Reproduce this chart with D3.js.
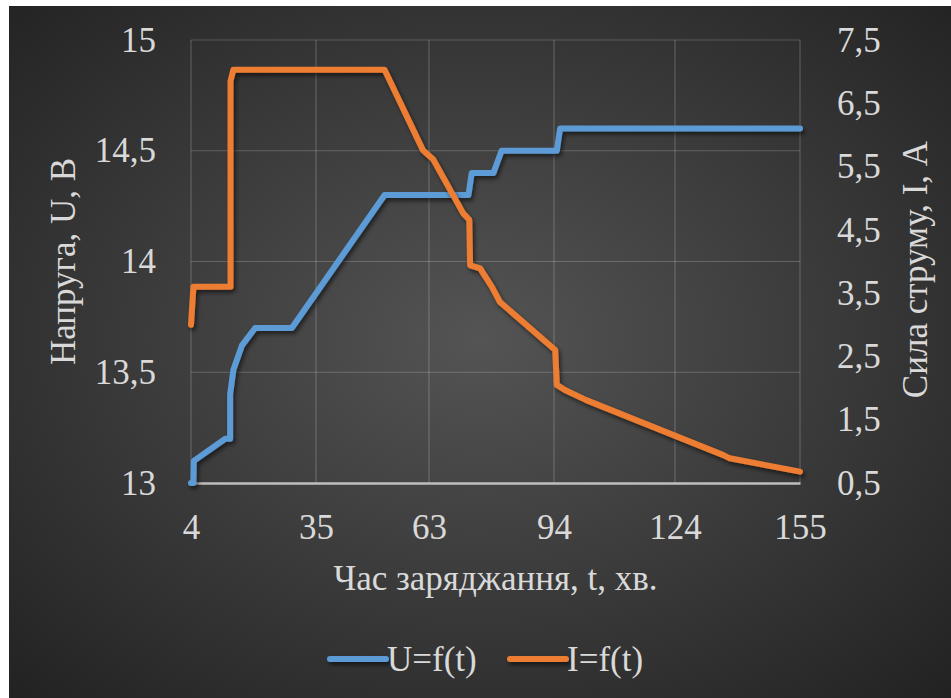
<!DOCTYPE html>
<html>
<head>
<meta charset="utf-8">
<script src="https://cdn.jsdelivr.net/npm/d3@7"></script>
<style>
  #chart text, #chart .tick text { font-family: "Times New Roman", "Liberation Serif", "Tinos", serif !important; }
</style>
</head>
<body style="margin:0">
<svg id="chart" width="951" height="698" style="display:block" font-family="Times New Roman"></svg>
<script>
// ---- data ----
const xTicks = [4, 35, 63, 94, 124, 155];
const uTicks = [13, 13.5, 14, 14.5, 15];
const iTicks = [0.5, 1.5, 2.5, 3.5, 4.5, 5.5, 6.5, 7.5];

const uTime = [4, 4.6, 4.7, 12.5, 13.7, 13.7, 14.5, 16.6, 19.9, 29, 52, 72.8, 73.6, 79, 81, 94.7, 95.5, 155];
const uValues = [13.0, 13.0, 13.1, 13.2, 13.2, 13.4, 13.51, 13.62, 13.7, 13.7, 14.3, 14.3, 14.4, 14.4, 14.5, 14.5, 14.6, 14.6];

const iTime = [4, 4.6, 13.8, 13.8, 14.5, 52, 61.5, 62.5, 64, 71.5, 73, 73.2, 75.7, 76.5, 78.6, 80.6, 94.3, 94.7, 96.7, 102, 136, 137.6, 155];
const iValues = [3.0, 3.6, 3.6, 6.85, 7.03, 7.03, 5.76, 5.7, 5.62, 4.76, 4.66, 3.94, 3.89, 3.81, 3.6, 3.36, 2.6, 2.05, 1.97, 1.81, 0.94, 0.89, 0.68];

const seriesNames = ["U=f(t)", "I=f(t)"];
const seriesColors = ["#5b9bd5", "#ed7d31"];

const xTitle = "Час заряджання,  t, хв.";
const yLeftTitle = "Напруга,  U, В";
const yRightTitle = "Сила струму,  І, А";

// ---- layout ----
const W = 951, H = 698;
const margin = { left: 191, right: 151, top: 40, bottom: 215 };
const plotW = W - margin.left - margin.right;
const plotH = H - margin.top - margin.bottom;
const FONT = "Times New Roman";
const fontSize = 35;
const textColor = "#d9d9d9";

const svg = d3.select("#chart");
const defs = svg.append("defs");

const grad = defs.append("radialGradient").attr("id", "bg")
  .attr("cx", "50%").attr("cy", "48%").attr("r", "72%");
grad.append("stop").attr("offset", "0%").attr("stop-color", "#545454");
grad.append("stop").attr("offset", "100%").attr("stop-color", "#222222");

const shadow = defs.append("filter").attr("id", "shadow")
  .attr("filterUnits", "userSpaceOnUse")
  .attr("x", 0).attr("y", 0).attr("width", W).attr("height", H);
shadow.append("feDropShadow").attr("dx", 2).attr("dy", 3).attr("stdDeviation", 2)
  .attr("flood-color", "#000").attr("flood-opacity", 0.55);

svg.append("rect").attr("x", 0).attr("y", 0).attr("width", W).attr("height", H).attr("fill", "#ffffff");
svg.append("rect").attr("x", 9).attr("y", 6).attr("width", W - 9).attr("height", H - 6)
  .attr("fill", "url(#bg)");

const x = d3.scaleLinear().domain([4, 155]).range([margin.left, margin.left + plotW]);
const yL = d3.scaleLinear().domain([13, 15]).range([margin.top + plotH, margin.top]);
const yR = d3.scaleLinear().domain([0.5, 7.5]).range([margin.top + plotH, margin.top]);

const fmt = d => String(d).replace(".", ",");

function styleText(sel) {
  sel.attr("font-family", FONT).attr("font-size", fontSize).attr("fill", textColor);
}

// gridlines
const grid = svg.append("g");
grid.selectAll("line.h").data(uTicks.slice(1)).join("line")
  .attr("x1", x(4)).attr("x2", x(155))
  .attr("y1", d => yL(d)).attr("y2", d => yL(d))
  .attr("stroke", "#ffffff").attr("stroke-opacity", 0.2).attr("stroke-width", 1.2);
grid.selectAll("line.v").data(xTicks).join("line")
  .attr("x1", d => x(d)).attr("x2", d => x(d))
  .attr("y1", yL(13)).attr("y2", yL(15))
  .attr("stroke", "#ffffff").attr("stroke-opacity", 0.2).attr("stroke-width", 1.2);

// axes
const xAxis = svg.append("g").attr("transform", `translate(0,${yL(13)})`)
  .call(d3.axisBottom(x).tickValues(xTicks).tickSize(0).tickPadding(31).tickFormat(d => d));
xAxis.attr("font-family", FONT).attr("font-size", fontSize);
xAxis.select(".domain").attr("stroke", "#bfbfbf").attr("stroke-width", 2.5);
xAxis.selectAll("text").call(styleText);

const yAxisL = svg.append("g").attr("transform", `translate(${x(4)},0)`)
  .call(d3.axisLeft(yL).tickValues(uTicks).tickSize(0).tickPadding(35).tickFormat(fmt));
yAxisL.attr("font-family", FONT).attr("font-size", fontSize);
yAxisL.select(".domain").remove();
yAxisL.selectAll("text").call(styleText);

const yAxisR = svg.append("g").attr("transform", `translate(${x(155)},0)`)
  .call(d3.axisRight(yR).tickValues(iTicks).tickSize(0).tickPadding(37).tickFormat(fmt));
yAxisR.attr("font-family", FONT).attr("font-size", fontSize);
yAxisR.select(".domain").remove();
yAxisR.selectAll("text").call(styleText);

// lines
const uData = uTime.map((t, i) => [t, uValues[i]]);
const iData = iTime.map((t, i) => [t, iValues[i]]);

const lineU = d3.line().x(d => x(d[0])).y(d => yL(d[1]));
const lineI = d3.line().x(d => x(d[0])).y(d => yR(d[1]));

svg.append("path").datum(uData).attr("d", lineU)
  .attr("fill", "none").attr("stroke", seriesColors[0]).attr("stroke-width", 6)
  .attr("stroke-linejoin", "round").attr("stroke-linecap", "round").attr("filter", "url(#shadow)");
svg.append("path").datum(iData).attr("d", lineI)
  .attr("fill", "none").attr("stroke", seriesColors[1]).attr("stroke-width", 6)
  .attr("stroke-linejoin", "round").attr("stroke-linecap", "round").attr("filter", "url(#shadow)");

// titles
svg.append("text").attr("x", (x(4) + x(155)) / 2).attr("y", 590)
  .attr("text-anchor", "middle").call(styleText).text(xTitle);
svg.append("text").attr("transform", `translate(75,${(yL(13) + yL(15)) / 2}) rotate(-90)`)
  .attr("text-anchor", "middle").call(styleText).text(yLeftTitle);
svg.append("text").attr("transform", `translate(927,${(yL(13) + yL(15)) / 2 + 8}) rotate(-90)`)
  .attr("text-anchor", "middle").call(styleText).text(yRightTitle);

// legend
const legendY = 659;
const legendX = [330, 510];
const lg = svg.append("g");
seriesNames.forEach((name, i) => {
  const x0 = legendX[i];
  lg.append("line").attr("x1", x0).attr("x2", x0 + 56).attr("y1", legendY).attr("y2", legendY)
    .attr("stroke", seriesColors[i]).attr("stroke-width", 6).attr("stroke-linecap", "round")
    .attr("filter", "url(#shadow)");
  lg.append("text").attr("x", x0 + 57).attr("y", legendY + 12).call(styleText).text(name);
});
</script>
</body>
</html>
